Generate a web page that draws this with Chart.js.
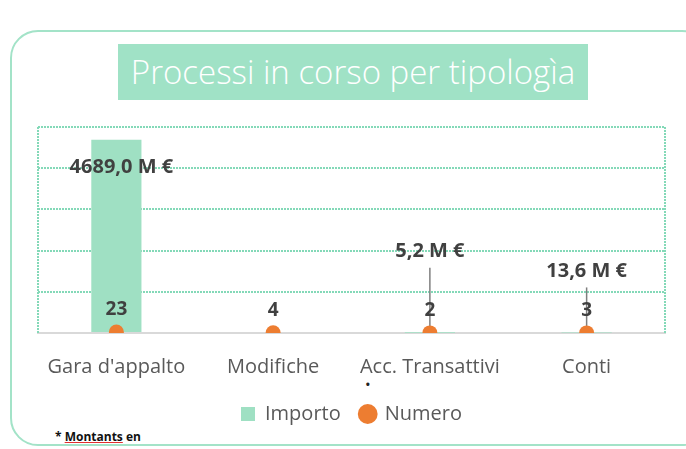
<!DOCTYPE html>
<html>
<head>
<meta charset="utf-8">
<script src="https://cdn.jsdelivr.net/npm/chart.js@4.4.0/dist/chart.umd.min.js"></script>
<style>
  html, body { margin: 0; padding: 0; background: #fff; }
  #wrap { position: relative; width: 686px; height: 449px; overflow: hidden; font-family: "Open Sans", sans-serif; }
  #frame {
    position: absolute; left: 10px; top: 30px; width: 700px; height: 416px;
    border: 2px solid #a3e3c8; border-radius: 28px; box-sizing: border-box;
  }
  #title {
    position: absolute; left: 118px; top: 44px; width: 470px; height: 56px;
    background: #a0e2c6; color: #fff; font-size: 33px; line-height: 56px; text-align: center;
    font-weight: 300;
  }
  #star { position: absolute; left: 365px; top: 374px; font-size: 15px; color: #222; }
  #note { position: absolute; left: 55px; top: 428px; font-size: 12px; font-weight: bold; color: #111; }
  #note u { text-decoration-color: #e03030; }
  canvas { position: absolute; left: 0; top: 0; }
</style>
</head>
<body>
<div id="wrap">
  <div id="frame"></div>
  <div id="title">Processi in corso per tipologìa</div>
  <div id="star">•</div>
  <div id="note">* <u>Montants</u> en</div>
  <canvas id="c" width="686" height="449"></canvas>
</div>
<script>
  const categories = ["Gara d'appalto", "Modifiche", "Acc. Transattivi", "Conti"];
  const importo = [4689.0, 0, 5.2, 13.6];
  const numero = [23, 4, 2, 3];
  const yTicks = [0, 1000, 2000, 3000, 4000, 5000];

  // manual label placement (pixels), like the hand-moved labels in the source
  const importoLabelShift = [{ dx: 5, dy: 27 }, null, { dx: 0, dy: -81 }, { dx: 0, dy: -61 }];

  const MINT = "#9fe0c3";
  const MINT_DOT = "#84d9b8";
  const ORANGE = "#ed7d31";
  const TEXT = "#404040";
  const FONT = "'Open Sans'";

  function fmtM(v) {
    return v.toFixed(1).replace(".", ",") + " M €";
  }

  const labelsPlugin = {
    id: "labels",
    beforeDatasetsDraw(chart) {
      const ctx = chart.ctx;
      const bars = chart.getDatasetMeta(0).data;
      ctx.save();
      ctx.strokeStyle = "#7f7f7f";
      ctx.lineWidth = 1.5;
      bars.forEach((b, i) => {
        const s = importoLabelShift[i];
        if (!s || !importo[i] || s.dy > 0) return;
        ctx.beginPath();
        ctx.moveTo(b.x + s.dx, b.y + s.dy + 16);
        ctx.lineTo(b.x + s.dx, b.y);
        ctx.stroke();
      });
      ctx.restore();
    },
    afterDatasetsDraw(chart) {
      const ctx = chart.ctx;
      const a = chart.chartArea;
      ctx.save();
      // dotted left/right edges of the plot area
      ctx.strokeStyle = MINT_DOT;
      ctx.lineWidth = 2;
      ctx.setLineDash([2, 1]);
      ctx.beginPath();
      ctx.moveTo(a.left, a.top); ctx.lineTo(a.left, a.bottom);
      ctx.moveTo(a.right, a.top); ctx.lineTo(a.right, a.bottom);
      ctx.stroke();
      ctx.setLineDash([]);

      ctx.fillStyle = TEXT;
      ctx.textAlign = "center";
      ctx.textBaseline = "middle";
      ctx.font = "bold 20px " + FONT;
      const bars = chart.getDatasetMeta(0).data;
      bars.forEach((b, i) => {
        const s = importoLabelShift[i];
        if (!s || !importo[i]) return;
        ctx.fillText(fmtM(importo[i]), b.x + s.dx, b.y + s.dy);
      });
      ctx.font = "bold 19px " + FONT;
      const pts = chart.getDatasetMeta(1).data;
      pts.forEach((p, i) => {
        ctx.fillText(String(numero[i]), p.x, p.y - 22);
      });
      ctx.restore();
    }
  };

  new Chart(document.getElementById("c"), {
    type: "bar",
    data: {
      labels: categories,
      datasets: [
        {
          label: "Importo",
          data: importo,
          backgroundColor: MINT,
          barPercentage: 0.32,
          categoryPercentage: 1,
          pointStyle: "rect",
          order: 2
        },
        {
          type: "line",
          label: "Numero",
          data: numero,
          showLine: false,
          pointRadius: 7.5,
          pointHoverRadius: 7.5,
          pointBackgroundColor: ORANGE,
          pointBorderWidth: 0,
          backgroundColor: ORANGE,
          borderColor: ORANGE,
          pointStyle: "circle",
          order: 1
        }
      ]
    },
    options: {
      responsive: false,
      animation: false,
      layout: { padding: { left: 38, right: 21, top: 127, bottom: 15 } },
      scales: {
        x: {
          grid: { display: false },
          border: { display: true, color: "#d9d9d9", width: 2 },
          ticks: { color: "#595959", font: { family: "Open Sans", size: 20 }, padding: 14 },
          afterFit: (scale) => { scale.height -= 9; }
        },
        y: {
          min: yTicks[0],
          max: yTicks[yTicks.length - 1],
          afterBuildTicks: (scale) => { scale.ticks = yTicks.map((v) => ({ value: v })); },
          ticks: { display: false },
          border: { display: false, dash: [2, 1] },
          grid: {
            color: (c) => (c.tick && c.tick.value === 0 ? "rgba(0,0,0,0)" : MINT_DOT),
            lineWidth: 2,
            drawTicks: false
          }
        }
      },
      plugins: {
        legend: {
          position: "bottom",
          labels: {
            usePointStyle: true,
            boxWidth: 14,
            boxHeight: 14,
            padding: 20,
            color: "#595959",
            font: { family: "Open Sans", size: 20 },
            sort: (a, b) => a.datasetIndex - b.datasetIndex
          }
        },
        tooltip: { enabled: false }
      }
    },
    plugins: [labelsPlugin]
  });
</script>
</body>
</html>
